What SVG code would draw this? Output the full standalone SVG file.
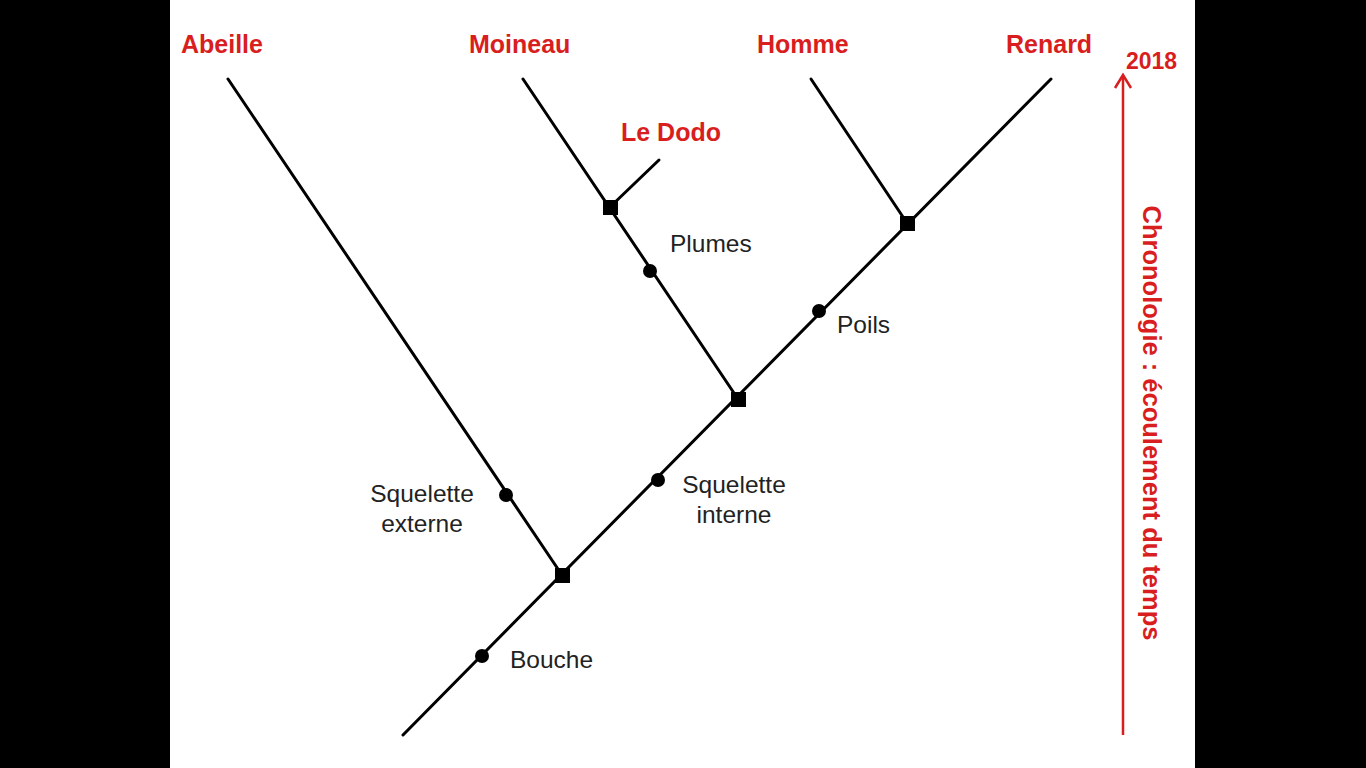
<svg xmlns="http://www.w3.org/2000/svg" width="1366" height="768" viewBox="0 0 1366 768">
<style>
.br{stroke:#000;stroke-width:3;fill:none;stroke-linecap:round}
.t{font-family:"Liberation Sans",Arial,sans-serif;font-size:25px;fill:#d81e1e;font-weight:bold}
.l{font-family:"Liberation Sans",Arial,sans-serif;font-size:24.5px;fill:#222}
.sq{fill:#000}
.dot{fill:#000}
</style>
<rect x="0" y="0" width="1366" height="768" fill="#000"/>
<rect x="170" y="0" width="1025" height="768" fill="#fff"/>
<g id="connectors">
<line class="br" x1="403" y1="735" x2="1051" y2="79"/>
<line class="br" x1="228" y1="79" x2="562" y2="575"/>
<line class="br" x1="523" y1="79" x2="738" y2="399"/>
<line class="br" x1="610" y1="207" x2="659" y2="160"/>
<line class="br" x1="811" y1="79" x2="907" y2="223"/>
</g>
<g id="nodes">
<rect class="sq" x="555" y="568" width="15" height="15"/>
<rect class="sq" x="731" y="392" width="15" height="15"/>
<rect class="sq" x="900" y="216" width="15" height="15"/>
<rect class="sq" x="603" y="200" width="15" height="15"/>
</g>
<g id="traits">
<circle class="dot" cx="482" cy="656" r="7"/>
<circle class="dot" cx="506" cy="495" r="7"/>
<circle class="dot" cx="658" cy="480" r="7"/>
<circle class="dot" cx="650" cy="271" r="7"/>
<circle class="dot" cx="819" cy="311" r="7"/>
</g>
<g id="taxa">
<text class="t" x="181" y="53">Abeille</text>
<text class="t" x="469" y="53">Moineau</text>
<text class="t" x="757" y="53">Homme</text>
<text class="t" x="1006" y="53">Renard</text>
<text class="t" x="621" y="141">Le Dodo</text>
</g>
<g id="labels">
<text class="l" x="670" y="252">Plumes</text>
<text class="l" x="837" y="333">Poils</text>
<text class="l" x="734" y="493" text-anchor="middle">Squelette</text>
<text class="l" x="734" y="523" text-anchor="middle">interne</text>
<text class="l" x="422" y="502" text-anchor="middle">Squelette</text>
<text class="l" x="422" y="532" text-anchor="middle">externe</text>
<text class="l" x="510" y="668">Bouche</text>
</g>
<g id="timeline">
<line x1="1123" y1="735" x2="1123" y2="76" stroke="#d81e1e" stroke-width="2.5"/>
<polyline points="1115,88 1123,75 1131,88" fill="none" stroke="#d81e1e" stroke-width="2.5" stroke-linejoin="miter"/>
<text class="t" x="1126" y="69" style="font-size:23px">2018</text>
<text class="t" transform="translate(1143,423) rotate(90)" text-anchor="middle" style="font-size:25.5px">Chronologie : écoulement du temps</text>
</g>
</svg>
